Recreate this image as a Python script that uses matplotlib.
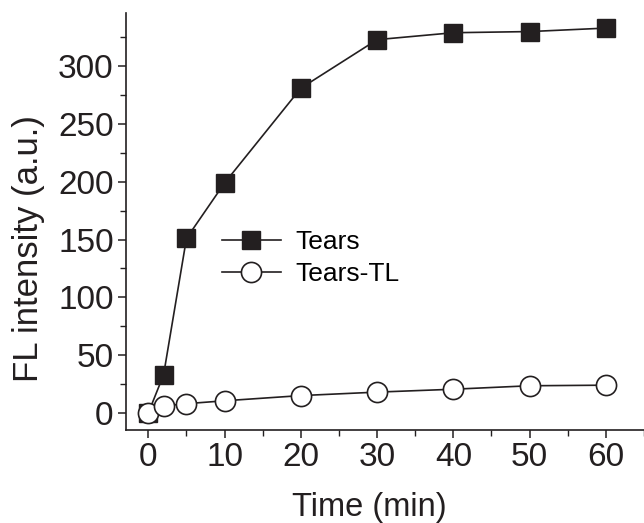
import matplotlib
matplotlib.use("Agg")
from matplotlib import pyplot as plt
from matplotlib.ticker import MultipleLocator

time_min = [0, 2, 5, 10, 20, 30, 40, 50, 60]
tears = [0, 33, 151, 199, 281, 323, 329, 330, 333]
tears_tl = [0, 6, 8, 10.5, 15, 18, 20.5, 23.5, 24]


def main():
    plt.rcParams["font.family"] = ["Liberation Sans", "DejaVu Sans"]
    fig = plt.figure(figsize=(6.44, 5.23), dpi=100)
    ax = fig.add_axes([0.196, 0.178, 0.804, 0.797])

    ax.plot(time_min, tears, color="#231f20", lw=1.2, marker="s",
            ms=13.5, mfc="#231f20", mec="#231f20", label="Tears")
    ax.plot(time_min, tears_tl, color="#231f20", lw=1.2, marker="o",
            ms=14.5, mfc="white", mec="#231f20", mew=1.2, label="Tears-TL")

    ax.set_xlim(-2.9, 65)
    ax.set_ylim(-14.7, 346)
    ax.xaxis.set_major_locator(MultipleLocator(10))
    ax.xaxis.set_minor_locator(MultipleLocator(5))
    ax.yaxis.set_major_locator(MultipleLocator(50))
    ax.yaxis.set_minor_locator(MultipleLocator(25))

    for side in ("top", "right"):
        ax.spines[side].set_visible(False)
    for side in ("left", "bottom"):
        ax.spines[side].set_linewidth(1.2)
        ax.spines[side].set_color("#231f20")

    ax.tick_params(which="major", direction="out", length=6, width=1.1,
                   labelsize=24, colors="#231f20", pad=3)
    ax.tick_params(which="minor", direction="out", length=4, width=1.0,
                   colors="#231f20")

    ax.set_xlabel("Time (min)", fontsize=23.5, color="#231f20")
    ax.set_ylabel("FL intensity (a.u.)", fontsize=25, color="#231f20")
    ax.xaxis.set_label_coords(0.469, -0.148)
    ax.yaxis.set_label_coords(-0.156, 0.434)

    ax.legend(loc="upper left", bbox_to_anchor=(0.14, 0.537), frameon=False,
              fontsize=19, handlelength=2.2, handletextpad=0.55,
              labelspacing=0.31, markerscale=1.0)

    fig.savefig("out.png", dpi=100)


if __name__ == "__main__":
    main()
